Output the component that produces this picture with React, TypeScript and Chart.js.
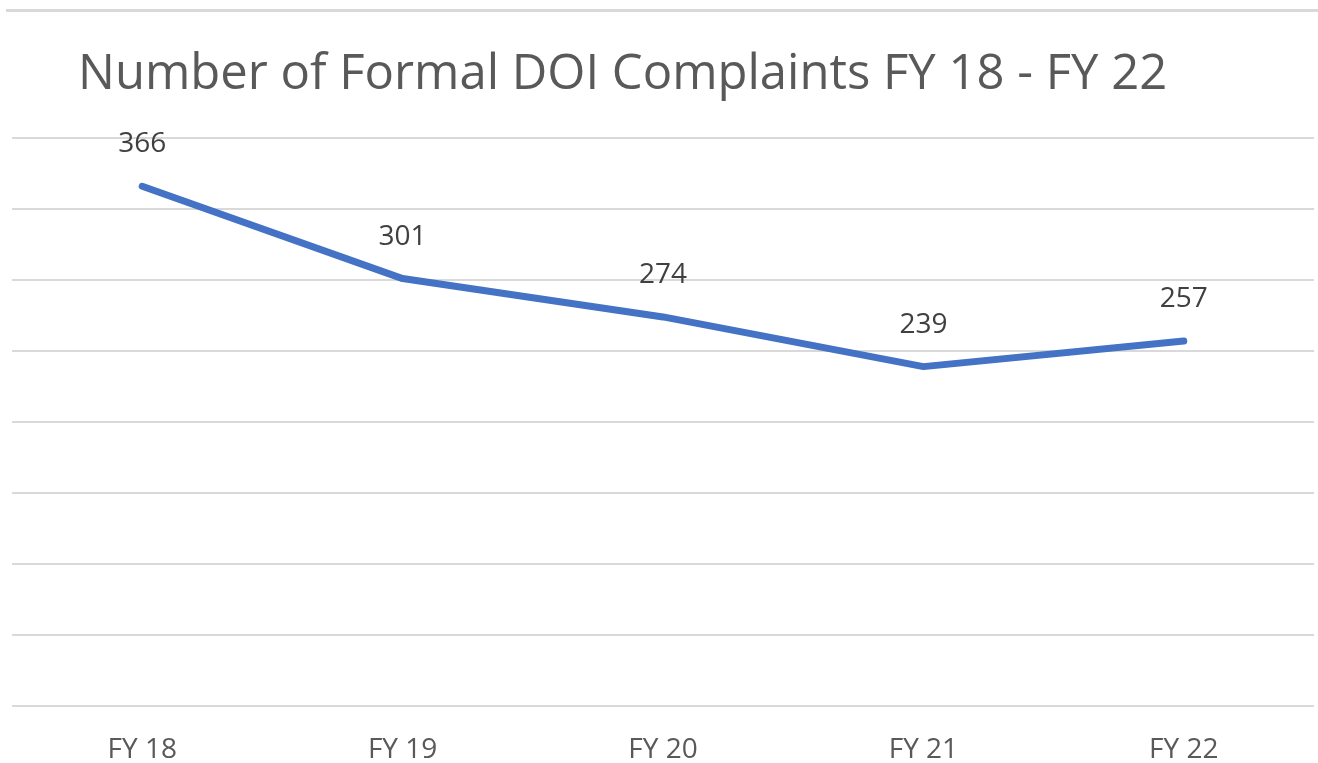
import React, { useEffect, useRef } from "react";
import { Chart, registerables } from "chart.js";

Chart.register(...registerables);

const categories = ["FY 18", "FY 19", "FY 20", "FY 21", "FY 22"];
const complaints = [366, 301, 274, 239, 257];
const yTicks = [0, 50, 100, 150, 200, 250, 300, 350, 400];
const titleText = "Number of Formal DOI Complaints FY 18 - FY 22";

const FONT = "'Open Sans', sans-serif";

export default function App() {
  const ref = useRef<HTMLCanvasElement | null>(null);

  useEffect(() => {
    document.body.style.margin = "0";
    const canvas = ref.current;
    if (!canvas) return;

    const decor = {
      id: "decor",
      beforeDraw(chart: any) {
        const ctx = chart.ctx;
        ctx.save();
        ctx.fillStyle = "#ffffff";
        ctx.fillRect(0, 0, chart.width, chart.height);
        ctx.strokeStyle = "#d9d9d9";
        ctx.lineWidth = 3;
        ctx.beginPath();
        ctx.moveTo(6, 10.5);
        ctx.lineTo(chart.width, 10.5);
        ctx.stroke();
        ctx.fillStyle = "#595959";
        ctx.font = `49px ${FONT}`;
        ctx.textAlign = "left";
        ctx.textBaseline = "alphabetic";
        ctx.fillText(titleText, 78, 89);
        ctx.restore();
      },
      afterDatasetsDraw(chart: any) {
        const ctx = chart.ctx;
        const meta = chart.getDatasetMeta(0);
        ctx.save();
        ctx.fillStyle = "#404040";
        ctx.font = `28px ${FONT}`;
        ctx.textAlign = "center";
        ctx.textBaseline = "alphabetic";
        meta.data.forEach((pt: any, i: number) => {
          ctx.fillText(String(complaints[i]), pt.x, pt.y - 34);
        });
        ctx.restore();
      },
    };

    const chart = new Chart(canvas, {
      type: "line",
      data: {
        labels: categories,
        datasets: [
          {
            data: complaints,
            borderColor: "#4472C4",
            borderWidth: 7,
            borderCapStyle: "round",
            borderJoinStyle: "round",
            pointRadius: 0,
            pointHoverRadius: 0,
            tension: 0,
            fill: false,
          },
        ],
      },
      options: {
        animation: false,
        responsive: false,
        events: [],
        layout: { padding: { left: 12, right: 4, top: 138, bottom: 0 } },
        plugins: {
          legend: { display: false },
          title: { display: false },
          tooltip: { enabled: false },
        },
        scales: {
          x: {
            offset: true,
            afterFit: (s: any) => {
              s.height = 57;
            },
            grid: { display: false, drawTicks: false },
            border: { display: false },
            ticks: {
              color: "#595959",
              font: { family: FONT, size: 28 },
              padding: 27,
              maxRotation: 0,
            },
          },
          y: {
            min: 0,
            max: 400,
            afterBuildTicks: (s: any) => {
              s.ticks = yTicks.map((v) => ({ value: v }));
            },
            afterFit: (s: any) => {
              s.width = 0;
            },
            grid: { color: "#d9d9d9", lineWidth: 2, drawTicks: false },
            border: { display: false },
            ticks: { display: false },
          },
        },
      },
      plugins: [decor],
    });

    return () => chart.destroy();
  }, []);

  return (
    <div style={{ width: 1318, height: 763 }}>
      <canvas ref={ref} width={1318} height={763} style={{ display: "block" }} />
    </div>
  );
}
